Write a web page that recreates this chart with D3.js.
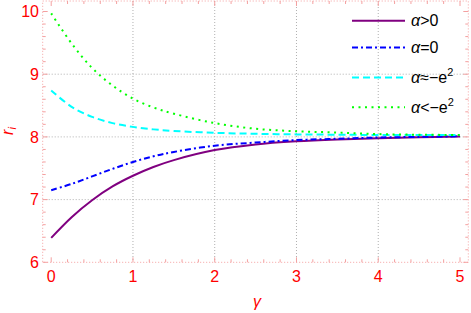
<!DOCTYPE html>
<html>
<head>
<meta charset="utf-8">
<script src="https://cdn.jsdelivr.net/npm/d3@7"></script>
<style>
  body { margin: 0; background: #fff; }
  text { font-family: "Liberation Sans", Arial, sans-serif; }
</style>
</head>
<body>
<svg id="svg" width="471" height="313"></svg>
<script>
// values
let gammaValues = [0, 0.25, 0.5, 0.75, 1, 1.25, 1.5, 2, 2.5, 3, 3.5, 4, 4.5, 5];
let alphaPositive = [6.39, 6.72, 6.99, 7.21, 7.38, 7.52, 7.63, 7.79, 7.88, 7.93, 7.96, 7.98, 7.995, 8.005];
let alphaZero = [7.15, 7.25, 7.37, 7.49, 7.60, 7.69, 7.76, 7.86, 7.91, 7.95, 7.97, 7.99, 8.0, 8.01];
let alphaNearE2 = [8.74, 8.48, 8.32, 8.22, 8.16, 8.12, 8.095, 8.065, 8.05, 8.04, 8.035, 8.03, 8.03, 8.03];
let alphaBelowE2 = [9.97, 9.49, 9.10, 8.82, 8.61, 8.47, 8.37, 8.22, 8.13, 8.09, 8.07, 8.045, 8.035, 8.03];
let xTicks = [0, 1, 2, 3, 4, 5];
let yTicks = [6, 7, 8, 9, 10];
let xGrid = [1, 2, 3, 4];
let yGrid = [7, 8, 9];

let series = [
  { name: "α>0", values: alphaPositive, color: "#800080", dash: null },
  { name: "α=0", values: alphaZero, color: "#0000ff", dash: "6,3,2,3" },
  { name: "α≈−e", values: alphaNearE2, color: "#00ffff", dash: "7,4", sup: true },
  { name: "α<−e", values: alphaBelowE2, color: "#00ff00", dash: "2,4.5", sup: true }
];

let svg = d3.select("#svg");
let plotLeft = 42.7, plotRight = 468.3, plotTop = 1, plotBottom = 262.3;

let x = d3.scaleLinear().domain([0, 5]).range([51.2, 460]);
let y = d3.scaleLinear().domain([6, 10]).range([262.3, 11.5]);

let frameColor = "#f4a0a0";

// grid
svg.append("g").selectAll("line").data(xGrid).join("line")
  .attr("x1", d => x(d)).attr("x2", d => x(d))
  .attr("y1", plotTop).attr("y2", plotBottom)
  .attr("stroke", "#b0b0b0").attr("stroke-width", 1)
  .attr("stroke-dasharray", "1,2");
svg.append("g").selectAll("line").data(yGrid).join("line")
  .attr("x1", plotLeft).attr("x2", plotRight)
  .attr("y1", d => y(d)).attr("y2", d => y(d))
  .attr("stroke", "#b0b0b0").attr("stroke-width", 1)
  .attr("stroke-dasharray", "1,2");

// frame with inward ticks
let frame = svg.append("g");
frame.append("rect")
  .attr("x", plotLeft).attr("y", plotTop)
  .attr("width", plotRight - plotLeft).attr("height", plotBottom - plotTop)
  .attr("fill", "none").attr("stroke", frameColor)
  .attr("stroke-width", 1).attr("stroke-dasharray", "1,2");

let xMinor = d3.range(0, 26).map(i => i * 0.2).filter(v => x(v) < plotRight);
let yMinor = d3.range(0, 21).map(i => 6 + i * 0.2).filter(v => y(v) > plotTop);
xMinor.forEach(v => {
  let len = Math.abs(v - Math.round(v)) < 1e-6 ? 5 : 3;
  frame.append("line").attr("x1", x(v)).attr("x2", x(v)).attr("y1", plotBottom).attr("y2", plotBottom - len)
    .attr("stroke", frameColor);
  frame.append("line").attr("x1", x(v)).attr("x2", x(v)).attr("y1", plotTop).attr("y2", plotTop + len)
    .attr("stroke", frameColor);
});
yMinor.forEach(v => {
  let len = Math.abs(v - Math.round(v)) < 1e-6 ? 5 : 3;
  frame.append("line").attr("x1", plotLeft).attr("x2", plotLeft + len).attr("y1", y(v)).attr("y2", y(v))
    .attr("stroke", frameColor);
  frame.append("line").attr("x1", plotRight).attr("x2", plotRight - len).attr("y1", y(v)).attr("y2", y(v))
    .attr("stroke", frameColor);
});

// tick labels
svg.append("g").selectAll("text").data(xTicks).join("text")
  .attr("x", d => x(d)).attr("y", 282)
  .attr("text-anchor", "middle").attr("fill", "#ff0000")
  .attr("font-size", 16).text(d => d);
svg.append("g").selectAll("text").data(yTicks).join("text")
  .attr("x", 39).attr("y", d => y(d)).attr("dy", "0.35em")
  .attr("text-anchor", "end").attr("fill", "#ff0000")
  .attr("font-size", 16).text(d => d);

// axis labels
svg.append("text")
  .attr("x", 257).attr("y", 307)
  .attr("text-anchor", "middle").attr("fill", "#ff0000")
  .attr("font-size", 16).attr("font-style", "italic").text("γ");
let yl = svg.append("text")
  .attr("transform", "translate(13,131) rotate(-90)")
  .attr("text-anchor", "middle").attr("fill", "#ff0000")
  .attr("font-size", 16).attr("font-style", "italic");
yl.append("tspan").text("r");
yl.append("tspan").attr("font-size", 11).attr("dy", 3).text("i");

// curves
let line = d3.line()
  .x((d, i) => x(gammaValues[i]))
  .y(d => y(d))
  .curve(d3.curveCatmullRom);

series.forEach(s => {
  svg.append("path")
    .datum(s.values)
    .attr("fill", "none")
    .attr("stroke", s.color)
    .attr("stroke-width", 2)
    .attr("stroke-dasharray", s.dash)
    .attr("d", line);
});

// legend
let legendY = [20.7, 47.5, 77.5, 107.3];
series.forEach((s, i) => {
  svg.append("line")
    .attr("x1", 352).attr("x2", 405)
    .attr("y1", legendY[i]).attr("y2", legendY[i])
    .attr("stroke", s.color).attr("stroke-width", 2)
    .attr("stroke-dasharray", s.dash);
  let t = svg.append("text")
    .attr("x", 411).attr("y", legendY[i]).attr("dy", "0.35em")
    .attr("font-size", 16).attr("fill", "#000");
  t.append("tspan").attr("font-style", "italic").text("α");
  t.append("tspan").text(s.name.slice(1));
  if (s.sup) {
    t.append("tspan").attr("font-size", 11).attr("dy", -7).text("2");
  }
});
</script>
</body>
</html>
